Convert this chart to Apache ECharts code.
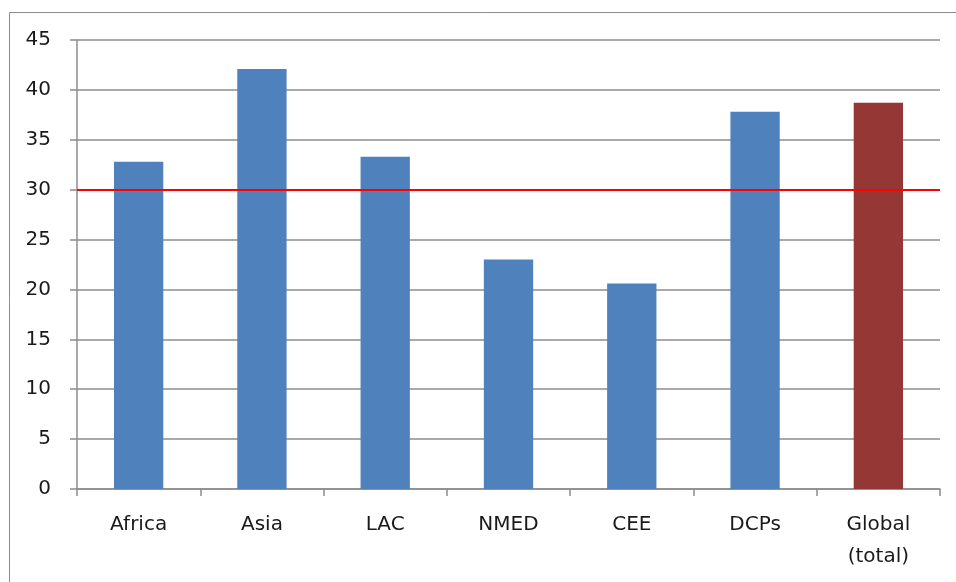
<!DOCTYPE html>
<html>
<head>
<meta charset="utf-8">
<script src="https://cdn.jsdelivr.net/npm/echarts@6/dist/echarts.min.js"></script>
<style>
  html, body { margin: 0; padding: 0; background: #fff; }
  #chart { width: 956px; height: 582px; }
</style>
</head>
<body>
<div id="chart"></div>
<script>
// regions and their values
var categories = ['Africa', 'Asia', 'LAC', 'NMED', 'CEE', 'DCPs', 'Global\n(total)']
var values = [32.8, 42.1, 33.3, 23.0, 20.6, 37.8, 38.7]
var barColors = ['#4F81BD', '#4F81BD', '#4F81BD', '#4F81BD', '#4F81BD', '#4F81BD', '#953735']
var threshold = 30

var chart = echarts.init(document.getElementById('chart'))

var seriesData = values.map(function (v, i) {
  return { value: v, itemStyle: { color: barColors[i] } }
})

var options = {
  animation: false,
  textStyle: { fontFamily: 'DejaVu Sans' },
  graphic: [{
    type: 'rect',
    shape: { x: 9.5, y: 12.5, width: 1000, height: 700 },
    style: { fill: 'none', stroke: '#8c8c8c', lineWidth: 1 },
    silent: true
  }],
  grid: {
    left: 77,
    right: 16,
    top: 40,
    bottom: 93
  },
  xAxis: {
    type: 'category',
    data: categories,
    axisLine: { lineStyle: { color: '#8c8c8c', width: 1.5 } },
    axisTick: { show: true, length: 7, lineStyle: { color: '#8c8c8c', width: 1.5 } },
    axisLabel: {
      color: '#1a1a1a',
      fontSize: 20,
      margin: 20,
      lineHeight: 32,
      interval: 0
    }
  },
  yAxis: {
    type: 'value',
    min: 0,
    max: 45,
    interval: 5,
    axisLine: { show: true, lineStyle: { color: '#8c8c8c', width: 1.5 } },
    axisTick: { show: true, length: 7, lineStyle: { color: '#8c8c8c', width: 1.5 } },
    splitLine: { lineStyle: { color: '#8c8c8c', width: 1.5 } },
    axisLabel: {
      color: '#1a1a1a',
      fontSize: 20,
      margin: 26
    }
  },
  series: [{
    type: 'bar',
    data: seriesData,
    barWidth: '40%',
    markLine: {
      symbol: 'none',
      silent: true,
      label: { show: false },
      lineStyle: { color: '#ff0000', width: 2, type: 'solid' },
      data: [{ yAxis: threshold }]
    }
  }]
}

chart.setOption(options)
</script>
</body>
</html>
